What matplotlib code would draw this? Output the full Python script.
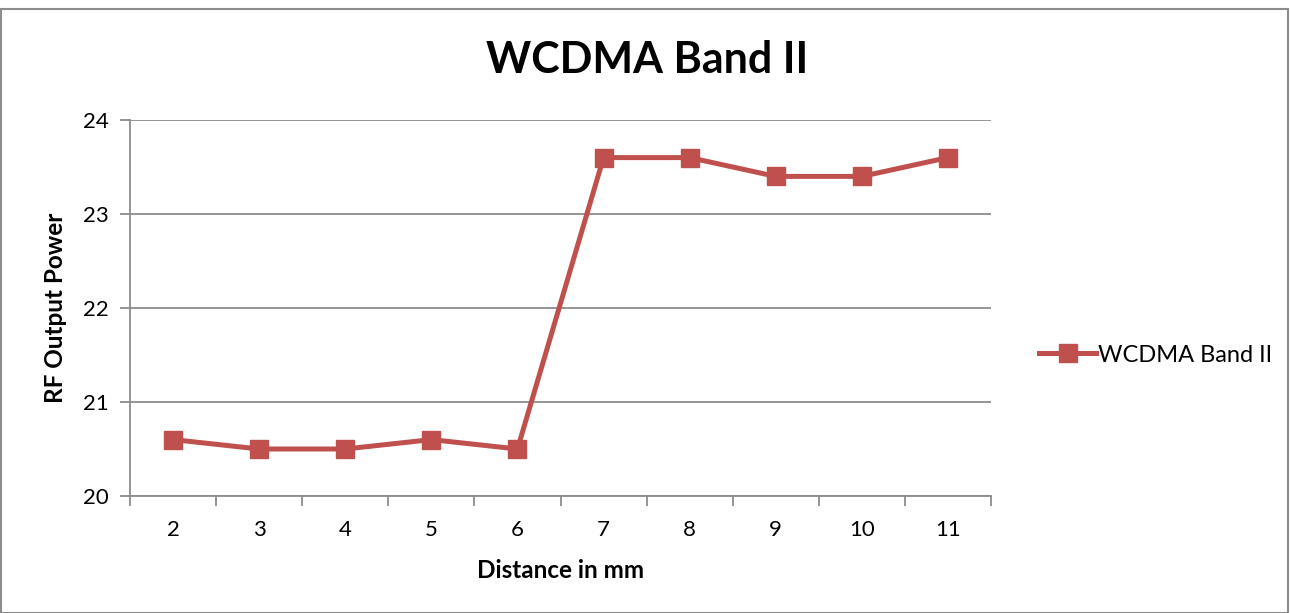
import numpy as np
import matplotlib
matplotlib.use("Agg")
import matplotlib.pyplot as plt
from matplotlib.patches import Rectangle

# data
distance = ["2", "3", "4", "5", "6", "7", "8", "9", "10", "11"]
power = [20.6, 20.5, 20.5, 20.6, 20.5, 23.6, 23.6, 23.4, 23.4, 23.6]
series_name = "WCDMA Band II"

plt.rcParams['font.family'] = ['Lato', 'DejaVu Sans']

red = "#C0504D"
grey = "#8C8C8C"

fig = plt.figure(figsize=(12.91, 6.13), dpi=100)
ax = fig.add_axes([130/1291, 1 - 496/613, (991-130)/1291, (496-120)/613])

x = np.arange(1, len(distance) + 1)
ax.plot(x, power, color=red, lw=3.6, marker="s", markersize=13, label=series_name)

ax.set_xlim(0.5, len(distance) + 0.5)
ax.set_ylim(20, 24)
ax.set_yticks([20, 21, 22, 23, 24])
ax.yaxis.grid(True, color=grey, lw=1.3)
ax.set_axisbelow(True)

# category labels centred, tick marks between categories
ax.set_xticks(np.arange(0.5, len(distance) + 1, 1))
ax.set_xticklabels([])
ax.set_xticks(x, minor=True)
ax.set_xticklabels(distance, minor=True)
ax.tick_params(axis="x", which="minor", length=0, pad=17, labelsize=16)
ax.tick_params(axis="x", which="major", length=7, width=1.3, color=grey, direction="out")
ax.tick_params(axis="y", length=7, width=1.3, color=grey, labelsize=16, pad=8)

for s in ["top", "right"]:
    ax.spines[s].set_visible(False)
for s in ["left", "bottom"]:
    ax.spines[s].set_color(grey)
    ax.spines[s].set_linewidth(1.3)

ax.set_xlabel("Distance in mm", fontsize=17.5, fontweight="bold", labelpad=14)
ax.set_ylabel("RF Output Power", fontsize=17.5, fontweight="bold", labelpad=12)

fig.text(0.501, 0.902, "WCDMA Band II", ha="center", va="center", fontsize=31, fontweight="bold")

leg = fig.legend(loc="center left", bbox_to_anchor=(1018/1291, 1 - 355/613), frameon=False,
                 fontsize=17, handlelength=2.4, handletextpad=0.1)

# chart border
fig.patches.append(Rectangle((1/1291, 0), 1287/1291, 1 - 9/613, transform=fig.transFigure,
                             fill=False, edgecolor=grey, lw=1.5))

fig.savefig("out.png", dpi=100)
